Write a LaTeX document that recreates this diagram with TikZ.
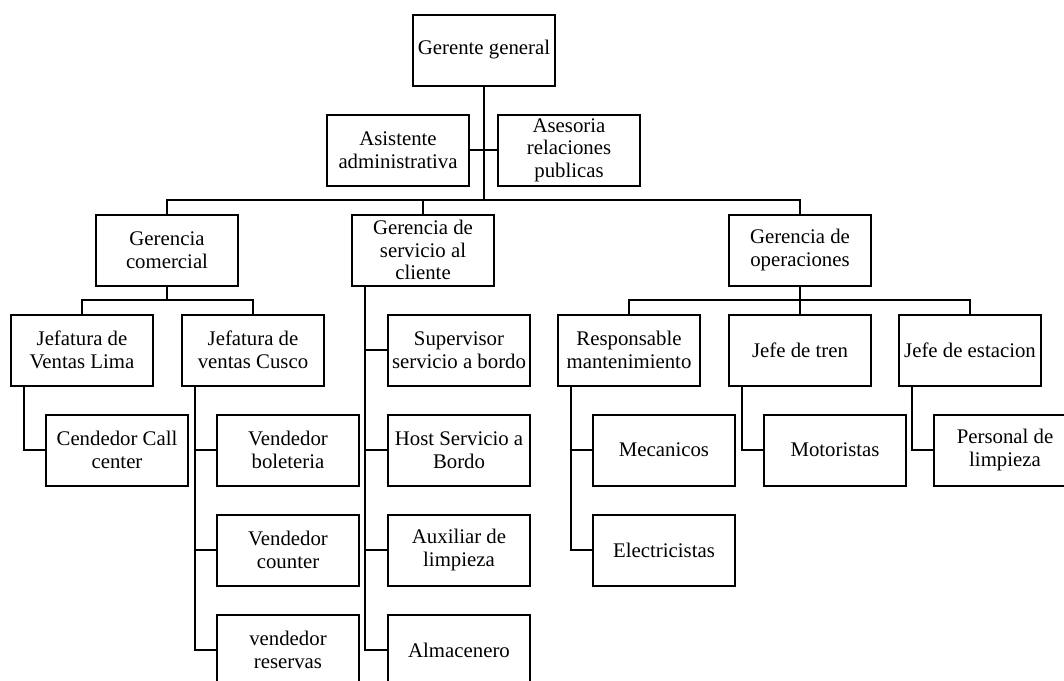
\documentclass[tikz,border=0pt]{standalone}
\usepackage{fontspec}
\setmainfont{Liberation Serif}
\tikzset{caja/.style={draw, line width=1pt, minimum width=71pt, minimum height=35.5pt, inner sep=1pt, align=center, font=\fontsize{10.4}{11.3}\selectfont}}
\begin{document}
\begin{tikzpicture}[x=0.5pt, y=-0.5pt, line width=1pt]
    \clip (0,0) rectangle (1064,680);
    \node[caja] (gg) at (484,50) {Gerente general};
    \node[caja] (asis) at (398,150) {Asistente\\administrativa};
    \node[caja] (ases) at (569,150) {Asesoria\\relaciones\\publicas};
    \node[caja] (gcom) at (167,250) {Gerencia\\comercial};
    \node[caja] (gser) at (423,250) {Gerencia de\\servicio al\\cliente};
    \node[caja] (gop) at (800,250) {Gerencia de\\operaciones};
    \node[caja] (jlima) at (82,350) {Jefatura de\\Ventas Lima};
    \node[caja] (jcus) at (253,350) {Jefatura de\\ventas Cusco};
    \node[caja] (call) at (117,450) {Cendedor Call\\center};
    \node[caja] (vbol) at (288,450) {Vendedor\\boleteria};
    \node[caja] (vcou) at (288,550) {Vendedor\\counter};
    \node[caja] (vres) at (288,650) {vendedor\\reservas};
    \node[caja] (sup) at (459,350) {Supervisor\\servicio a bordo};
    \node[caja] (host) at (459,450) {Host Servicio a\\Bordo};
    \node[caja] (aux) at (459,550) {Auxiliar de\\limpieza};
    \node[caja] (alm) at (459,650) {Almacenero};
    \node[caja] (resp) at (629,350) {Responsable\\mantenimiento};
    \node[caja] (jtren) at (800,350) {Jefe de tren};
    \node[caja] (jest) at (970,350) {Jefe de estacion};
    \node[caja] (mec) at (664,450) {Mecanicos};
    \node[caja] (ele) at (664,550) {Electricistas};
    \node[caja] (mot) at (835,450) {Motoristas};
    \node[caja] (pers) at (1005,450) {Personal de\\limpieza};
    % niveles
    \coordinate (bgg) at (484,200);
    \coordinate (bcom) at (167,300);
    \coordinate (bop) at (800,300);
    \draw (gg) -- (bgg);
    \draw (asis) -- (ases);
    \draw (gcom) |- (bgg) -| (gop);
    \draw (gser) -- (gser |- bgg);
    \draw (gcom) -- (bcom);
    \draw (jlima) |- (bcom) -| (jcus);
    \draw (gop) -- (jtren);
    \draw (resp) |- (bop) -| (jest);
    % dependientes
    \draw ([xshift=7pt]jlima.south west) |- (call);
    \foreach \n in {vbol,vcou,vres} \draw ([xshift=7pt]jcus.south west) |- (\n);
    \foreach \n in {sup,host,aux,alm} \draw ([xshift=7pt]gser.south west) |- (\n);
    \foreach \n in {mec,ele} \draw ([xshift=7pt]resp.south west) |- (\n);
    \draw ([xshift=7pt]jtren.south west) |- (mot);
    \draw ([xshift=7pt]jest.south west) |- (pers);
\end{tikzpicture}
\end{document}
